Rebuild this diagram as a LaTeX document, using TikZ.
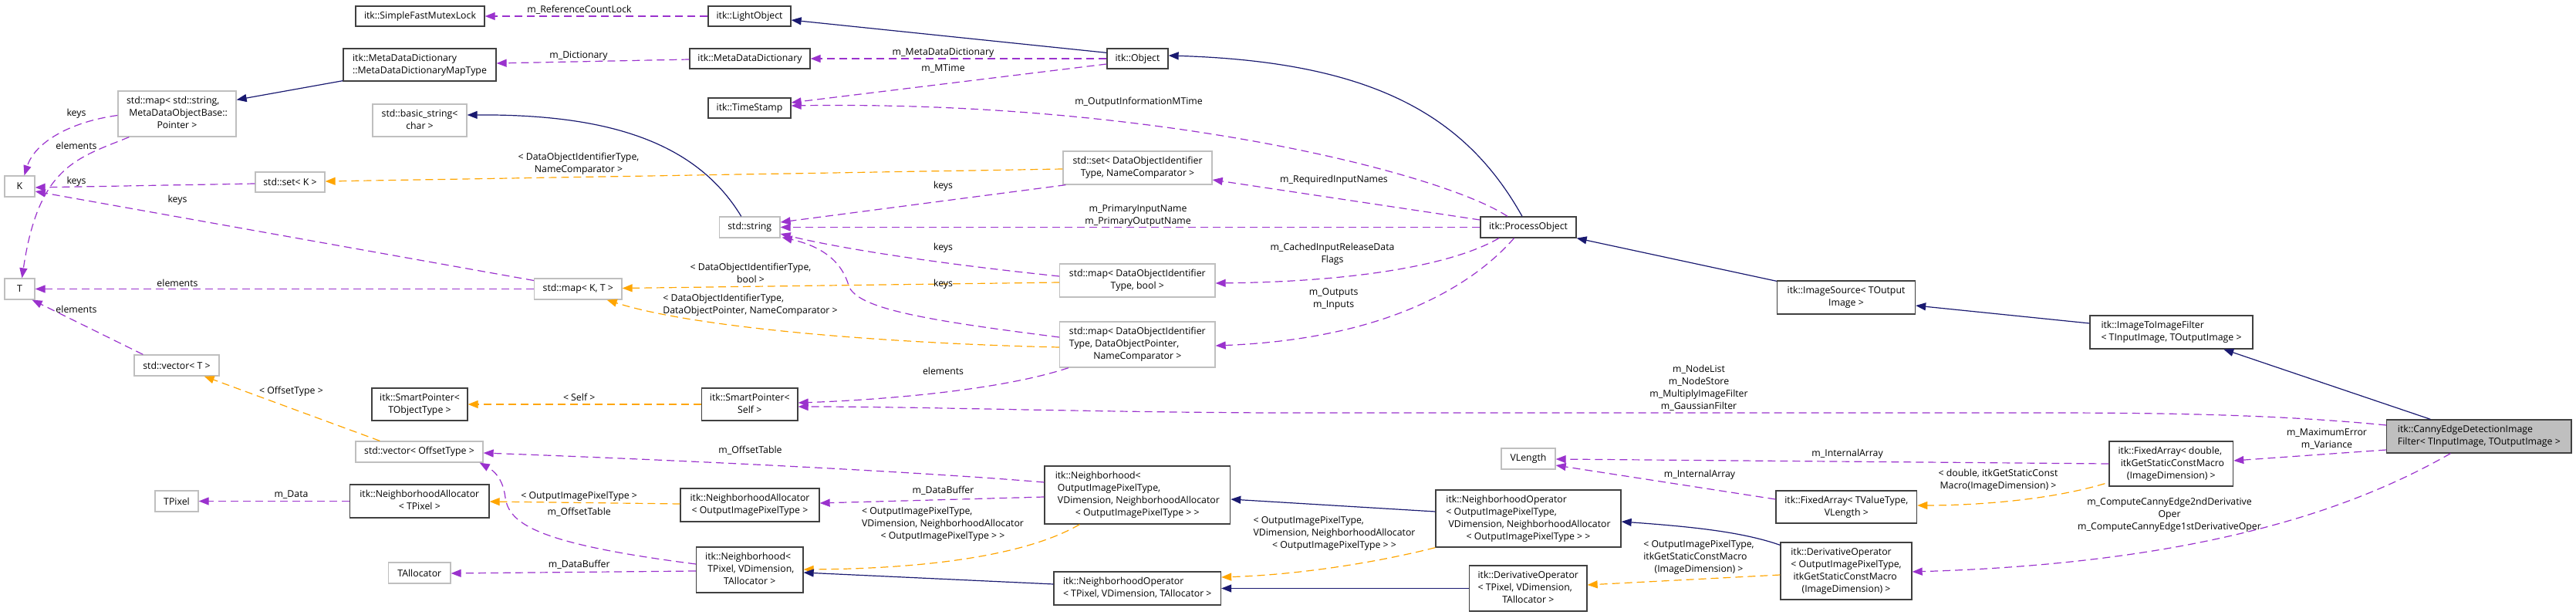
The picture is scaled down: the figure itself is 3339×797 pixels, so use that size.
\documentclass[tikz,border=0pt]{standalone}
\usepackage{fontspec}
\setmainfont{Open Sans}
\usetikzlibrary{arrows.meta,calc}
\definecolor{usecol}{HTML}{9A32CD}
\definecolor{tmplcol}{HTML}{FFA500}
\definecolor{inhcol}{HTML}{191970}
\definecolor{docgray}{HTML}{404040}
\definecolor{undocgray}{HTML}{BFBFBF}
\newcommand{\fnt}{\fontsize{12.3}{16}\selectfont}
\newcommand{\lbl}[2]{\begin{tabular}{@{}l@{}}#1\\\multicolumn{1}{@{}c@{}}{#2}\end{tabular}}
\newcommand{\clbl}[1]{\begin{tabular}{@{}c@{}}#1\end{tabular}}
\tikzset{
  box/.style={line width=1.3pt, inner sep=0pt, font=\fnt, fill=white},
  doc/.style={box, draw=docgray},
  undoc/.style={box, draw=undocgray},
  mainbox/.style={box, draw=docgray, fill=undocgray},
  edgebase/.style={line width=1.2pt, -{Triangle[length=13pt,width=10pt]}},
  use/.style={edgebase, draw=usecol, dash pattern=on 10pt off 6pt},
  tmpl/.style={edgebase, draw=tmplcol, dash pattern=on 10pt off 6pt},
  inh/.style={edgebase, draw=inhcol},
  elab/.style={inner sep=0pt, font=\fnt, text=black}
}
\begin{document}
\begin{tikzpicture}[x=1pt,y=-1pt]
\useasboundingbox (0,0) rectangle (3339,797);
% ---------------- nodes ----------------
\node[doc, minimum width=167pt, minimum height=26pt] (sfml) at (544.5,21) {itk::SimpleFastMutexLock};
\node[doc, minimum width=198pt, minimum height=42pt] (mddmt) at (544,84) {\lbl{itk::MetaDataDictionary}{::MetaDataDictionaryMapType}};
\node[undoc, minimum width=153pt, minimum height=59pt] (mapstr) at (229.5,147.5) {\lbl{std::map< std::string,\\\ MetaDataObjectBase::}{Pointer >}};
\node[undoc, minimum width=122pt, minimum height=42pt] (bstr) at (544,156) {\lbl{std::basic\_string<}{char >}};
\node[undoc, minimum width=39pt, minimum height=27pt] (K) at (25.5,241.5) {K};
\node[undoc, minimum width=90pt, minimum height=26pt] (setK) at (376,236) {std::set< K >};
\node[undoc, minimum width=39pt, minimum height=27pt] (T) at (25.5,374.5) {T};
\node[doc, minimum width=107pt, minimum height=26pt] (lobj) at (971.5,21) {itk::LightObject};
\node[doc, minimum width=156pt, minimum height=26pt] (mdd) at (972,76) {itk::MetaDataDictionary};
\node[doc, minimum width=107pt, minimum height=26pt] (ts) at (971.5,140) {itk::TimeStamp};
\node[undoc, minimum width=78.5pt, minimum height=27pt] (str) at (971.75,294.5) {std::string};
\node[undoc, minimum width=113.5pt, minimum height=27pt] (mapKT) at (749.25,374.5) {std::map< K, T >};
\node[doc, minimum width=79pt, minimum height=26pt] (obj) at (1474.5,76) {itk::Object};
\node[undoc, minimum width=193pt, minimum height=43pt] (setDO) at (1474.5,217.5) {\lbl{std::set< DataObjectIdentifier}{Type, NameComparator >}};
\node[undoc, minimum width=201.4pt, minimum height=43pt] (mapbool) at (1474.3,363.5) {\lbl{std::map< DataObjectIdentifier}{Type, bool >}};
\node[doc, minimum width=124pt, minimum height=27pt] (po) at (1981,294.5) {itk::ProcessObject};
\node[doc, minimum width=179pt, minimum height=43pt] (isrc) at (2393,385.5) {\lbl{itk::ImageSource< TOutput}{Image >}};
\node[undoc, minimum width=110pt, minimum height=27pt] (vecT) at (229,473.5) {std::vector< T >};
\node[doc, minimum width=124pt, minimum height=42pt] (spT) at (544,524) {\lbl{itk::SmartPointer<}{TObjectType >}};
\node[undoc, minimum width=165pt, minimum height=27pt] (vecOT) at (543.5,585.5) {std::vector< OffsetType >};
\node[undoc, minimum width=56pt, minimum height=27pt] (tpix) at (229,649.5) {TPixel};
\node[doc, minimum width=180.4pt, minimum height=43pt] (naT) at (543.8,649.5) {\lbl{itk::NeighborhoodAllocator}{< TPixel >}};
\node[undoc, minimum width=80.4pt, minimum height=27pt] (talloc) at (543.8,742.5) {TAllocator};
\node[doc, minimum width=124.4pt, minimum height=42pt] (spS) at (971.8,524) {\lbl{itk::SmartPointer<}{Self >}};
\node[doc, minimum width=180pt, minimum height=43pt] (naO) at (972,654.5) {\lbl{itk::NeighborhoodAllocator}{< OutputImagePixelType >}};
\node[doc, minimum width=138.5pt, minimum height=59pt] (nbT) at (971.75,738.5) {\lbl{itk::Neighborhood<\\\ TPixel, VDimension,}{TAllocator >}};
\node[undoc, minimum width=201.4pt, minimum height=59pt] (mapDOP) at (1474.3,446.5) {\lbl{std::map< DataObjectIdentifier\\Type, DataObjectPointer,}{NameComparator >}};
\node[doc, minimum width=240.6pt, minimum height=75pt] (nbO) at (1474.3,641.5) {\lbl{itk::Neighborhood<\\\ OutputImagePixelType,\\\ VDimension, NeighborhoodAllocator}{< OutputImagePixelType > >}};
\node[doc, minimum width=216.5pt, minimum height=43pt] (noT) at (1474.25,762.5) {\lbl{itk::NeighborhoodOperator}{< TPixel, VDimension, TAllocator >}};
\node[undoc, minimum width=70pt, minimum height=27pt] (vlen) at (1981,594.5) {VLength};
\node[doc, minimum width=240pt, minimum height=74pt] (noO) at (1981,672) {\lbl{itk::NeighborhoodOperator\\< OutputImagePixelType,\\\ VDimension, NeighborhoodAllocator}{< OutputImagePixelType > >}};
\node[doc, minimum width=152.4pt, minimum height=59pt] (doT) at (1980.8,762.5) {\lbl{itk::DerivativeOperator\\< TPixel, VDimension,}{TAllocator >}};
\node[doc, minimum width=211pt, minimum height=43pt] (itif) at (2814.5,430.5) {\lbl{itk::ImageToImageFilter}{< TInputImage, TOutputImage >}};
\node[doc, minimum width=160.6pt, minimum height=58pt] (fad) at (2814.3,601) {\lbl{itk::FixedArray< double,\\\ itkGetStaticConstMacro}{(ImageDimension) >}};
\node[doc, minimum width=182.6pt, minimum height=42pt] (faT) at (2393.3,657) {\lbl{itk::FixedArray< TValueType,}{VLength >}};
\node[doc, minimum width=170pt, minimum height=74pt] (doO) at (2393,740) {\lbl{itk::DerivativeOperator\\< OutputImagePixelType,\\\ itkGetStaticConstMacro}{(ImageDimension) >}};
\node[mainbox, minimum width=239.3pt, minimum height=43pt] (canny) at (3213.35,565.5) {\lbl{itk::CannyEdgeDetectionImage}{Filter< TInputImage, TOutputImage >}};
% ---------------- edges ----------------
\draw[use] (lobj.west) -- (sfml.east);
\draw[inh] ($(obj.north west)+(0,6)$) -- ($(lobj.east)+(0,5)$);
\draw[use] ($(mdd.west)+(0,1)$) -- ($(mddmt.east)+(0,-2)$);
\draw[use] (obj.west) -- (mdd.east);
\draw[use] ($(obj.west)+(0,7)$) -- ($(ts.east)+(0,-7)$);
\draw[use] ($(po.north)+(-27,0)$) .. controls (1870,225) and (1500,130) .. ($(ts.east)+(0,-3)$);
\draw[inh] ($(mddmt.south west)+(0,-1)$) -- ($(mapstr.north east)+(0,12)$);
\draw[use] ($(mapstr.west)+(0,2)$) .. controls (90,158) and (45,185) .. ($(K.north)+(6,0)$);
\draw[use] ($(mapstr.south west)+(15,0)$) .. controls (100,205) and (50,215) .. ($(T.north)+(3,0)$);
\draw[use] ($(setK.west)+(0,2)$) -- ($(K.east)+(0,1.5)$);
\draw[use] ($(mapKT.west)+(0,-11)$) -- ($(K.east)+(0,6.5)$);
\draw[use] (mapKT.west) -- (T.east);
\draw[use] ($(vecT.north west)+(12,0)$) -- ($(T.south east)+(-4,0)$);
\draw[inh] ($(str.north)+(-11,0)$) .. controls (900,180) and (780,148) .. ($(bstr.east)+(0,-7)$);
\draw[tmpl] ($(setDO.west)+(0,1.5)$) -- ($(setK.east)+(0,-1)$);
\draw[use] ($(setDO.south west)+(4,0)$) -- ($(str.east)+(0,-6.5)$);
\draw[use] ($(po.west)+(0,-9.5)$) -- ($(setDO.east)+(0,15.5)$);
\draw[use] (po.west) -- (str.east);
\draw[use] ($(mapbool.west)+(0,-5.5)$) .. controls (1200,340) and (1080,320) .. ($(str.east)+(0,8.5)$);
\draw[tmpl] ($(mapbool.west)+(0,2.5)$) -- ($(mapKT.east)+(0,-1)$);
\draw[use] ($(mapDOP.west)+(0,-9.5)$) .. controls (1200,415) and (1110,400) .. (1100,370) .. controls (1090,335) and (1060,318) .. ($(str.south east)+(2,-1)$);
\draw[use] ($(po.south)+(-38,0)$) .. controls (1880,345) and (1750,365) .. ($(mapbool.east)+(0,3.5)$);
\draw[tmpl] ($(mapDOP.west)+(0,3.5)$) .. controls (1150,445) and (900,425) .. ($(mapKT.south east)+(-20,0)$);
\draw[use] ($(po.south)+(-18.5,0)$) .. controls (1900,380) and (1780,440) .. ($(mapDOP.east)+(0,1.5)$);
\draw[use] ($(mapDOP.south west)+(12,0)$) .. controls (1300,505) and (1150,518) .. ($(spS.east)+(0,-2)$);
\draw[use] ($(canny.west)+(0,-14.5)$) .. controls (2950,537) and (2800,535) .. (2650,535) -- (1650,535) .. controls (1400,534) and (1200,527) .. ($(spS.east)+(0,3)$);
\draw[tmpl] (spS.west) -- (spT.east);
\draw[tmpl] ($(vecOT.north west)+(32,0)$) -- ($(vecT.south east)+(-20,0)$);
\draw[use] ($(nbO.west)+(0,-16.5)$) .. controls (1200,612) and (900,597) .. ($(vecOT.east)+(0,1.5)$);
\draw[use] ($(nbT.west)+(0,-7.5)$) .. controls (700,705) and (660,680) .. (655,645) .. controls (652,620) and (640,610) .. ($(vecOT.south east)+(-5,0)$);
\draw[tmpl] ($(naO.west)+(0,-1.5)$) -- ($(naT.east)+(0,0.5)$);
\draw[use] ($(nbO.west)+(0,2.5)$) -- ($(naO.east)+(0,-2.5)$);
\draw[use] (naT.west) -- (tpix.east);
\draw[use] ($(nbT.west)+(0,1.5)$) -- ($(talloc.east)+(0,0.5)$);
\draw[tmpl] ($(nbO.south west)+(46,0)$) .. controls (1330,720) and (1200,737) .. ($(nbT.east)+(0,-0.5)$);
\draw[inh] ($(noT.west)+(0,-5.5)$) -- ($(nbT.east)+(0,3.5)$);
\draw[inh] ($(noO.west)+(0,-9)$) -- ($(nbO.east)+(0,5.5)$);
\draw[tmpl] (noO.south west) .. controls (1780,730) and (1680,745) .. ($(noT.east)+(0,-14.5)$);
\draw[inh] (doT.west) -- (noT.east);
\draw[inh] ($(doO.north west)+(0,4)$) .. controls (2260,690) and (2200,683) .. ($(noO.east)+(0,4)$);
\draw[tmpl] ($(doO.west)+(0,5)$) -- ($(doT.east)+(0,-4.5)$);
\draw[use] ($(faT.west)+(0,-10)$) -- ($(vlen.east)+(0,8.5)$);
\draw[use] (fad.west) -- ($(vlen.east)+(0,0.5)$);
\draw[tmpl] ($(fad.south west)+(-5,-4)$) .. controls (2650,650) and (2550,655) .. ($(faT.east)+(0,-2)$);
\draw[use] ($(canny.west)+(0,17.5)$) -- ($(fad.east)+(0,-4)$);
\draw[use] ($(canny.south)+(-37,0)$) .. controls (3050,660) and (2850,730) .. ($(doO.east)+(0,1)$);
\draw[inh] ($(itif.west)+(0,-11.5)$) -- ($(isrc.east)+(0,10.5)$);
\draw[inh] ($(isrc.north west)+(0,1)$) -- (po.south east);
\draw[inh] ($(canny.north)+(-63,0)$) -- ($(itif.south east)+(-38.5,0)$);
\draw[inh] ($(po.north)+(-8,0)$) .. controls (1900,150) and (1780,80) .. ($(obj.east)+(0,-4)$);
% ---------------- edge labels ----------------
\node[elab] (l1) at (751,13) {m\_ReferenceCountLock};
\node[elab] (l3) at (750,72) {m\_Dictionary};
\node[elab] (l4) at (1222.5,68) {m\_MetaDataDictionary};
\node[elab] (l5) at (1222.5,89) {m\_MTime};
\node[elab] (l6) at (1476,132) {m\_OutputInformationMTime};
\node[elab] (l8) at (99,147) {keys};
\node[elab] (l9) at (99,189) {elements};
\node[elab] (l10) at (99,235) {keys};
\node[elab] (l11) at (230,259) {keys};
\node[elab] (l12) at (230,367) {elements};
\node[elab] (l13) at (99,401) {elements};
\node[elab] (l15) at (750,212) {\lbl{< DataObjectIdentifierType,}{NameComparator >}};
\node[elab] (l16) at (1222.5,241) {keys};
\node[elab] (l17) at (1729,233) {m\_RequiredInputNames};
\node[elab] (l18) at (1475,279) {\clbl{m\_PrimaryInputName\\m\_PrimaryOutputName}};
\node[elab] (l19) at (1222.5,321) {keys};
\node[elab] (l20) at (973,355) {\lbl{< DataObjectIdentifierType,}{bool >}};
\node[elab] (l20b) at (1222.5,368) {keys};
\node[elab] (l21) at (1727,329) {\clbl{m\_CachedInputReleaseData\\Flags}};
\node[elab] (l22) at (972.5,395) {\lbl{< DataObjectIdentifierType,}{DataObjectPointer, NameComparator >}};
\node[elab] (l23) at (1728.6,387) {\clbl{m\_Outputs\\m\_Inputs}};
\node[elab] (l24) at (1222.5,481) {elements};
\node[elab] (l25) at (2202,503) {\clbl{m\_NodeList\\m\_NodeStore\\m\_MultiplyImageFilter\\m\_GaussianFilter}};
\node[elab] (l26) at (750.7,515) {< Self >};
\node[elab] (l27) at (377.5,507) {< OffsetType >};
\node[elab] (l28) at (972.5,584) {m\_OffsetTable};
\node[elab] (l29) at (750.7,664) {m\_OffsetTable};
\node[elab] (l30) at (750.7,643) {< OutputImagePixelType >};
\node[elab] (l31) at (1222.5,636) {m\_DataBuffer};
\node[elab] (l32) at (377.5,641) {m\_Data};
\node[elab] (l33) at (750.7,732) {m\_DataBuffer};
\node[elab] (l34) at (1222,679) {\lbl{< OutputImagePixelType,\\VDimension, NeighborhoodAllocator}{< OutputImagePixelType > >}};
\node[elab] (l37) at (1729.5,691) {\lbl{< OutputImagePixelType,\\VDimension, NeighborhoodAllocator}{< OutputImagePixelType > >}};
\node[elab] (l40) at (2202,722) {\lbl{< OutputImagePixelType,\\itkGetStaticConstMacro}{(ImageDimension) >}};
\node[elab] (l41) at (2203,615) {m\_InternalArray};
\node[elab] (l42) at (2394.6,588) {m\_InternalArray};
\node[elab] (l43) at (2590,622.5) {\lbl{< double, itkGetStaticConst}{Macro(ImageDimension) >}};
\node[elab] (l44) at (3016,569) {\clbl{m\_MaximumError\\m\_Variance}};
\node[elab] (l45) at (2812,667) {\clbl{m\_ComputeCannyEdge2ndDerivative\\Oper\\m\_ComputeCannyEdge1stDerivativeOper}};
\end{tikzpicture}
\end{document}
